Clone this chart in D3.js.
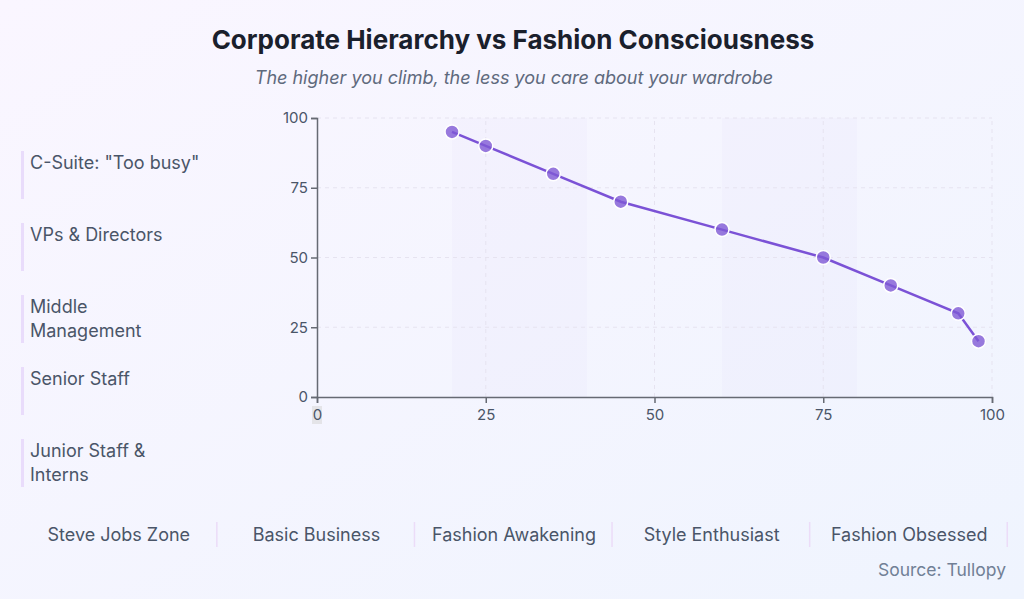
<!DOCTYPE html>
<html><head><meta charset="utf-8">
<script src="https://cdn.jsdelivr.net/npm/d3@7"></script>
<style>
html,body{margin:0;padding:0;}
body{width:1024px;height:599px;overflow:hidden;font-family:Inter,"Noto Sans",sans-serif;}
</style></head>
<body>
<svg id="chart" width="1024" height="599"></svg>
<script>
const xValues = [20, 25, 35, 45, 60, 75, 85, 95, 98];
const yValues = [95, 90, 80, 70, 60, 50, 40, 30, 20];
const tickValues = [0, 25, 50, 75, 100];
const bands = [[20, 40], [60, 80]];
const hierarchyLabels = [["C-Suite: \"Too busy\""], ["VPs & Directors"], ["Middle", "Management"], ["Senior Staff"], ["Junior Staff &", "Interns"]];
const fashionLabels = ["Steve Jobs Zone", "Basic Business", "Fashion Awakening", "Style Enthusiast", "Fashion Obsessed"];
const titleText = "Corporate Hierarchy vs Fashion Consciousness";
const subtitleText = "The higher you climb, the less you care about your wardrobe";
const sourceText = "Source: Tullopy";

const svg = d3.select("#chart");
const W = 1024, H = 599;
const defs = svg.append("defs");
const grad = defs.append("linearGradient").attr("id","bg").attr("x1","0").attr("y1","0").attr("x2","1").attr("y2","1");
grad.append("stop").attr("offset","0%").attr("stop-color","#faf6ff");
grad.append("stop").attr("offset","100%").attr("stop-color","#eff4fe");
svg.append("rect").attr("width",W).attr("height",H).attr("fill","url(#bg)");

svg.append("text").attr("x",513).attr("y",49).attr("text-anchor","middle")
  .attr("font-size",26).attr("font-weight",700).attr("fill","#1a202c").text(titleText);
svg.append("text").attr("x",514).attr("y",84).attr("text-anchor","middle")
  .attr("font-size",18).attr("font-style","italic").attr("fill","#5f6a7d").text(subtitleText);

const x = d3.scaleLinear().domain([0,100]).range([317,992]);
const y = d3.scaleLinear().domain([0,100]).range([397,118]);

const g = svg.append("g");
g.selectAll("rect.band").data(bands).join("rect").attr("class","band")
  .attr("x",d=>x(d[0])).attr("width",d=>x(d[1])-x(d[0]))
  .attr("y",y(100)).attr("height",y(0)-y(100))
  .attr("fill","#805ad5").attr("fill-opacity",0.025);

// grid
g.selectAll("line.gy").data(tickValues.filter(t=>t>0)).join("line").attr("class","gy")
  .attr("x1",x(0)).attr("x2",x(100)).attr("y1",d=>y(d)).attr("y2",d=>y(d))
  .attr("stroke","#e6e3f0").attr("stroke-dasharray","4,4");
g.selectAll("line.gx").data(tickValues.filter(t=>t>0)).join("line").attr("class","gx")
  .attr("y1",y(0)).attr("y2",y(100)).attr("x1",d=>x(d)).attr("x2",d=>x(d))
  .attr("stroke","#e6e3f0").attr("stroke-dasharray","4,4");

// zero-tick highlight
g.append("rect").attr("x",x(0)-5).attr("y",406).attr("width",10).attr("height",18).attr("fill","#e4e4e8");

const xAxis = g.append("g").attr("transform",`translate(0,${y(0)})`)
  .call(d3.axisBottom(x).tickValues(tickValues).tickSize(6).tickSizeOuter(6));
const yAxis = g.append("g").attr("transform",`translate(${x(0)},0)`)
  .call(d3.axisLeft(y).tickValues(tickValues).tickSize(6).tickSizeOuter(6));
[xAxis,yAxis].forEach(a=>{
  a.select(".domain").attr("stroke","#666a73").attr("stroke-width",1.5);
  a.selectAll(".tick line").attr("stroke","#666a73").attr("stroke-width",1.5);
  a.selectAll(".tick text").attr("fill","#4a5568").attr("font-size",15).attr("font-family","Inter,'Noto Sans',sans-serif");
});
xAxis.selectAll(".tick text").attr("dy","0.9em");

const pts = xValues.map((v,i)=>[v,yValues[i]]);
g.append("path").datum(pts)
  .attr("d",d3.line().x(d=>x(d[0])).y(d=>y(d[1])))
  .attr("fill","none").attr("stroke","#7b52d6").attr("stroke-width",2.5);
g.selectAll("circle").data(pts).join("circle")
  .attr("cx",d=>x(d[0])).attr("cy",d=>y(d[1])).attr("r",7)
  .attr("fill","#805ad5").attr("fill-opacity",0.8)
  .attr("stroke","#ffffff").attr("stroke-width",1.5);

// left labels
const left = svg.append("g");
hierarchyLabels.forEach((lines,i)=>{
  const top = 151 + i*72;
  left.append("rect").attr("x",21).attr("y",top).attr("width",3).attr("height",48).attr("fill","#e9dcfb");
  lines.forEach((ln,j)=>{
    left.append("text").attr("x",30).attr("y",top+18+j*24).attr("font-size",18).attr("fill","#4a5568").text(ln);
  });
});

// bottom labels
const band = d3.scaleBand().domain(fashionLabels).range([20,1008]);
const bot = svg.append("g");
fashionLabels.forEach(l=>{
  const cx = band(l) + band.bandwidth()/2;
  bot.append("text").attr("x",cx).attr("y",541).attr("text-anchor","middle").attr("font-size",18).attr("fill","#4a5568").text(l);
  bot.append("rect").attr("x",band(l)+band.bandwidth()-1.5).attr("y",522).attr("width",1.5).attr("height",25).attr("fill","#ecdcf8");
});

svg.append("text").attr("x",1006).attr("y",576).attr("text-anchor","end").attr("font-size",17.5).attr("fill","#718096").text(sourceText);
</script>
</body></html>
